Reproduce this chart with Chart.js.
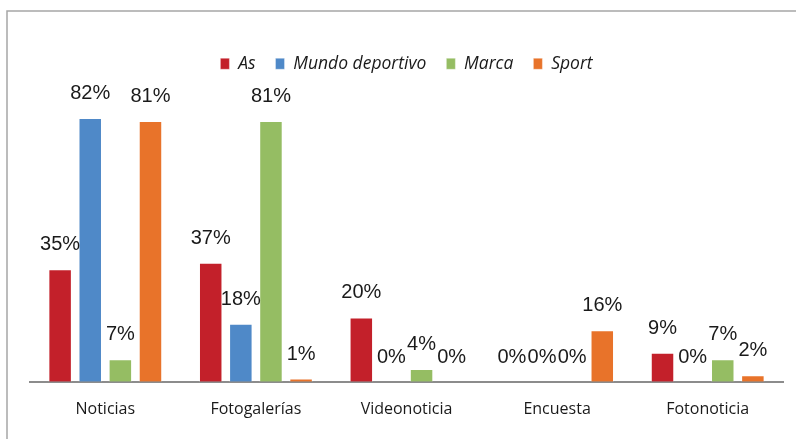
<!DOCTYPE html>
<html>
<head>
<meta charset="utf-8">
<script src="https://cdn.jsdelivr.net/npm/chart.js@4"></script>
<style>
  html, body { margin: 0; padding: 0; background: #fff; }
  #wrap { width: 796px; height: 439px; position: relative; }
</style>
</head>
<body>
<div id="wrap"><canvas id="chart"></canvas></div>
<script>
// Categories and series values (percent)
const categories = ['Noticias', 'Fotogalerías', 'Videonoticia', 'Encuesta', 'Fotonoticia'];
const asValues = [35, 37, 20, 0, 9];
const mundoValues = [82, 18, 0, 0, 0];
const marcaValues = [7, 81, 4, 0, 7];
const sportValues = [81, 1, 0, 16, 2];

const seriesNames = ['As', 'Mundo deportivo', 'Marca', 'Sport'];
const seriesColors = ['#c3202a', '#4f89c8', '#95bd63', '#e8732a'];

// frame around the chart (left + top edges visible)
const framePlugin = {
  id: 'frame',
  beforeDraw(chart) {
    const c = chart.ctx;
    c.save();
    c.fillStyle = '#fff';
    c.fillRect(0, 0, chart.width, chart.height);
    c.strokeStyle = '#a6a6a6';
    c.lineWidth = 1.5;
    c.beginPath();
    c.moveTo(7, chart.height);
    c.lineTo(7, 11);
    c.lineTo(chart.width, 11);
    c.stroke();
    c.restore();
  }
};

// value labels above each bar
const valueLabels = {
  id: 'valueLabels',
  afterDatasetsDraw(chart) {
    const c = chart.ctx;
    c.save();
    c.font = '20px "Liberation Sans", Arial, sans-serif';
    c.fillStyle = '#1a1a1a';
    c.textAlign = 'center';
    c.textBaseline = 'alphabetic';
    chart.data.datasets.forEach((ds, i) => {
      chart.getDatasetMeta(i).data.forEach((bar, j) => {
        c.fillText(ds.data[j] + '%', bar.x, bar.y - 19);
      });
    });
    c.restore();
  }
};

const makeSet = (label, data, color) => ({
  label,
  data,
  backgroundColor: color,
  borderColor: 'rgba(255,255,255,0.35)',
  borderWidth: 1,
  barPercentage: 0.78,
  categoryPercentage: 0.8
});

new Chart(document.getElementById('chart').getContext('2d'), {
  type: 'bar',
  data: {
    labels: categories,
    datasets: [
      makeSet(seriesNames[0], asValues, seriesColors[0]),
      makeSet(seriesNames[1], mundoValues, seriesColors[1]),
      makeSet(seriesNames[2], marcaValues, seriesColors[2]),
      makeSet(seriesNames[3], sportValues, seriesColors[3])
    ]
  },
  options: {
    responsive: true,
    maintainAspectRatio: false,
    animation: false,
    layout: {
      padding: { top: 35, left: 30, right: 13, bottom: 2 }
    },
    scales: {
      x: {
        grid: { display: false, drawTicks: false },
        border: { color: '#8c8c8c', width: 2 },
        ticks: {
          color: '#1a1a1a',
          padding: 18,
          font: { family: '"Open Sans", sans-serif', size: 16 }
        }
      },
      y: {
        display: false,
        min: 0,
        max: 93
      }
    },
    plugins: {
      legend: {
        position: 'top',
        labels: {
          boxWidth: 9,
          boxHeight: 11,
          padding: 20,
          color: '#1a1a1a',
          font: { family: '"Open Sans", sans-serif', size: 17.5, style: 'italic' }
        }
      },
      tooltip: { enabled: false }
    }
  },
  plugins: [framePlugin, valueLabels]
});
</script>
</body>
</html>
